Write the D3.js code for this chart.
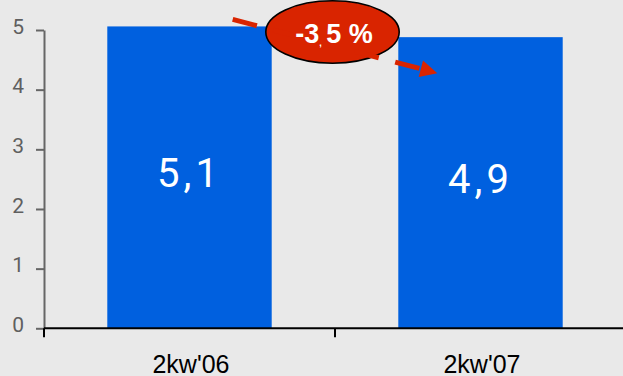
<!DOCTYPE html>
<html>
<head>
<meta charset="utf-8">
<script src="https://cdn.jsdelivr.net/npm/d3@7/dist/d3.min.js"></script>
<style>
  html, body { margin: 0; padding: 0; background: #e9e9e9; }
  svg { display: block; }
</style>
</head>
<body>
<svg id="chart" width="623" height="376"></svg>
<script>
// Quarterly values (2nd quarter 2006 vs 2nd quarter 2007)
const categories = ["2kw'06", "2kw'07"];
const values = [5.06, 4.88];
const yTicks = [0, 1, 2, 3, 4, 5];
// change badge text, split into runs so the decimal comma can be set small
const changeParts = [
  { t: "-3", size: 27, dy: 0 },
  { t: ",", size: 9, dy: 3 },
  { t: "\u00a0", size: 16, dy: -3 },
  { t: "5", size: 27, dy: 0 },
  { t: "\u00a0", size: 27, dy: 0 },
  { t: "%", size: 27, dy: 0 }
];

const W = 623, H = 376;
const svg = d3.select("#chart");
svg.append("rect").attr("width", W).attr("height", H).attr("fill", "#e9e9e9");

const x = d3.scaleBand().domain(categories).range([44, 626]).padding(0);
const y = d3.scaleLinear().domain([0, 5]).range([328.3, 30]);
const barW = x.bandwidth() * 0.565;
const barX = d => x(d) + (x.bandwidth() - barW) / 2;
const fmt = v => d3.format(".1f")(v).replace(".", ",");

// bars
svg.append("g").selectAll("rect").data(values).join("rect")
  .attr("x", (d, i) => barX(categories[i]))
  .attr("y", d => y(d))
  .attr("width", barW)
  .attr("height", d => y(0) - y(d))
  .attr("fill", "#0060df");

// value labels inside bars
svg.append("g").selectAll("text").data(values).join("text")
  .attr("x", (d, i) => x(categories[i]) + x.bandwidth() / 2)
  .attr("y", d => (y(d) + y(0)) / 2 + 10)
  .attr("text-anchor", "middle")
  .attr("font-family", "Roboto, sans-serif")
  .attr("font-size", 40)
  .attr("letter-spacing", 4)
  .attr("fill", "#ffffff")
  .text(d => fmt(d));

// y axis
const yAxis = svg.append("g").attr("transform", "translate(44,0)")
  .call(d3.axisLeft(y).tickValues(yTicks).tickFormat(d3.format("d"))
    .tickSize(8).tickSizeOuter(0).tickPadding(12));
yAxis.select(".domain").attr("stroke", "#666").attr("stroke-width", 2);
yAxis.selectAll(".tick line").attr("stroke", "#666").attr("stroke-width", 2);
yAxis.selectAll(".tick text")
  .attr("fill", "#5f5f5f")
  .attr("font-family", "Roboto, sans-serif")
  .attr("font-size", 21)
  .attr("dy", "0.15em");

// x axis: baseline, category boundary ticks and labels
const xAxis = svg.append("g");
xAxis.append("line")
  .attr("x1", x.range()[0]).attr("x2", W)
  .attr("y1", y(0)).attr("y2", y(0))
  .attr("stroke", "#000").attr("stroke-width", 2);
const bounds = categories.map(c => x(c)).concat([x(categories[categories.length - 1]) + x.step()]);
xAxis.selectAll(".bound").data(bounds).join("line")
  .attr("class", "bound")
  .attr("x1", d => d).attr("x2", d => d)
  .attr("y1", y(0)).attr("y2", y(0) + 9)
  .attr("stroke", "#000").attr("stroke-width", 2);
xAxis.selectAll("text").data(categories).join("text")
  .attr("x", d => x(d) + x.bandwidth() / 2 + 1.5)
  .attr("y", y(0) + 44.5)
  .attr("text-anchor", "middle")
  .attr("font-family", "'Liberation Sans', Arial, sans-serif")
  .attr("font-size", 25)
  .attr("fill", "#000")
  .text(d => d);

// change annotation: ellipse, dashed arrow, percentage
const b1Right = barX(categories[0]) + barW;
const b2Left = barX(categories[1]);
const cx = (b1Right + b2Left) / 2 - 2.5;
const cy = y(5) + 2;

svg.append("ellipse")
  .attr("cx", cx).attr("cy", cy).attr("rx", 66.7).attr("ry", 31.2)
  .attr("fill", "#d92400").attr("stroke", "#000").attr("stroke-width", 1.6);

const p0 = [b1Right - 39, y(values[0]) - 7];
const tip = [b2Left + 39, y(values[1]) + 36];
const dx = tip[0] - p0[0], dy = tip[1] - p0[1];
const len = Math.hypot(dx, dy);
const ux = dx / len, uy = dy / len;
const headLen = 17, headHalf = 8.5;
const base = [tip[0] - ux * headLen, tip[1] - uy * headLen];

svg.append("line")
  .attr("x1", p0[0]).attr("y1", p0[1])
  .attr("x2", base[0] + ux * 2).attr("y2", base[1] + uy * 2)
  .attr("stroke", "#d92400").attr("stroke-width", 5)
  .attr("stroke-dasharray", "25,17");
svg.append("path")
  .attr("d", d3.line()([
    tip,
    [base[0] - uy * headHalf, base[1] + ux * headHalf],
    [base[0] + uy * headHalf, base[1] - ux * headHalf]
  ]) + "Z")
  .attr("fill", "#d92400");

const pct = svg.append("text")
  .attr("x", cx + 1.5).attr("y", cy + 10.7)
  .attr("text-anchor", "middle")
  .attr("font-family", "'Liberation Sans', Arial, sans-serif")
  .attr("font-weight", "bold")
  .attr("fill", "#ffffff");
pct.selectAll("tspan").data(changeParts).join("tspan")
  .attr("font-size", d => d.size)
  .attr("dy", d => d.dy)
  .text(d => d.t);
</script>
</body>
</html>
